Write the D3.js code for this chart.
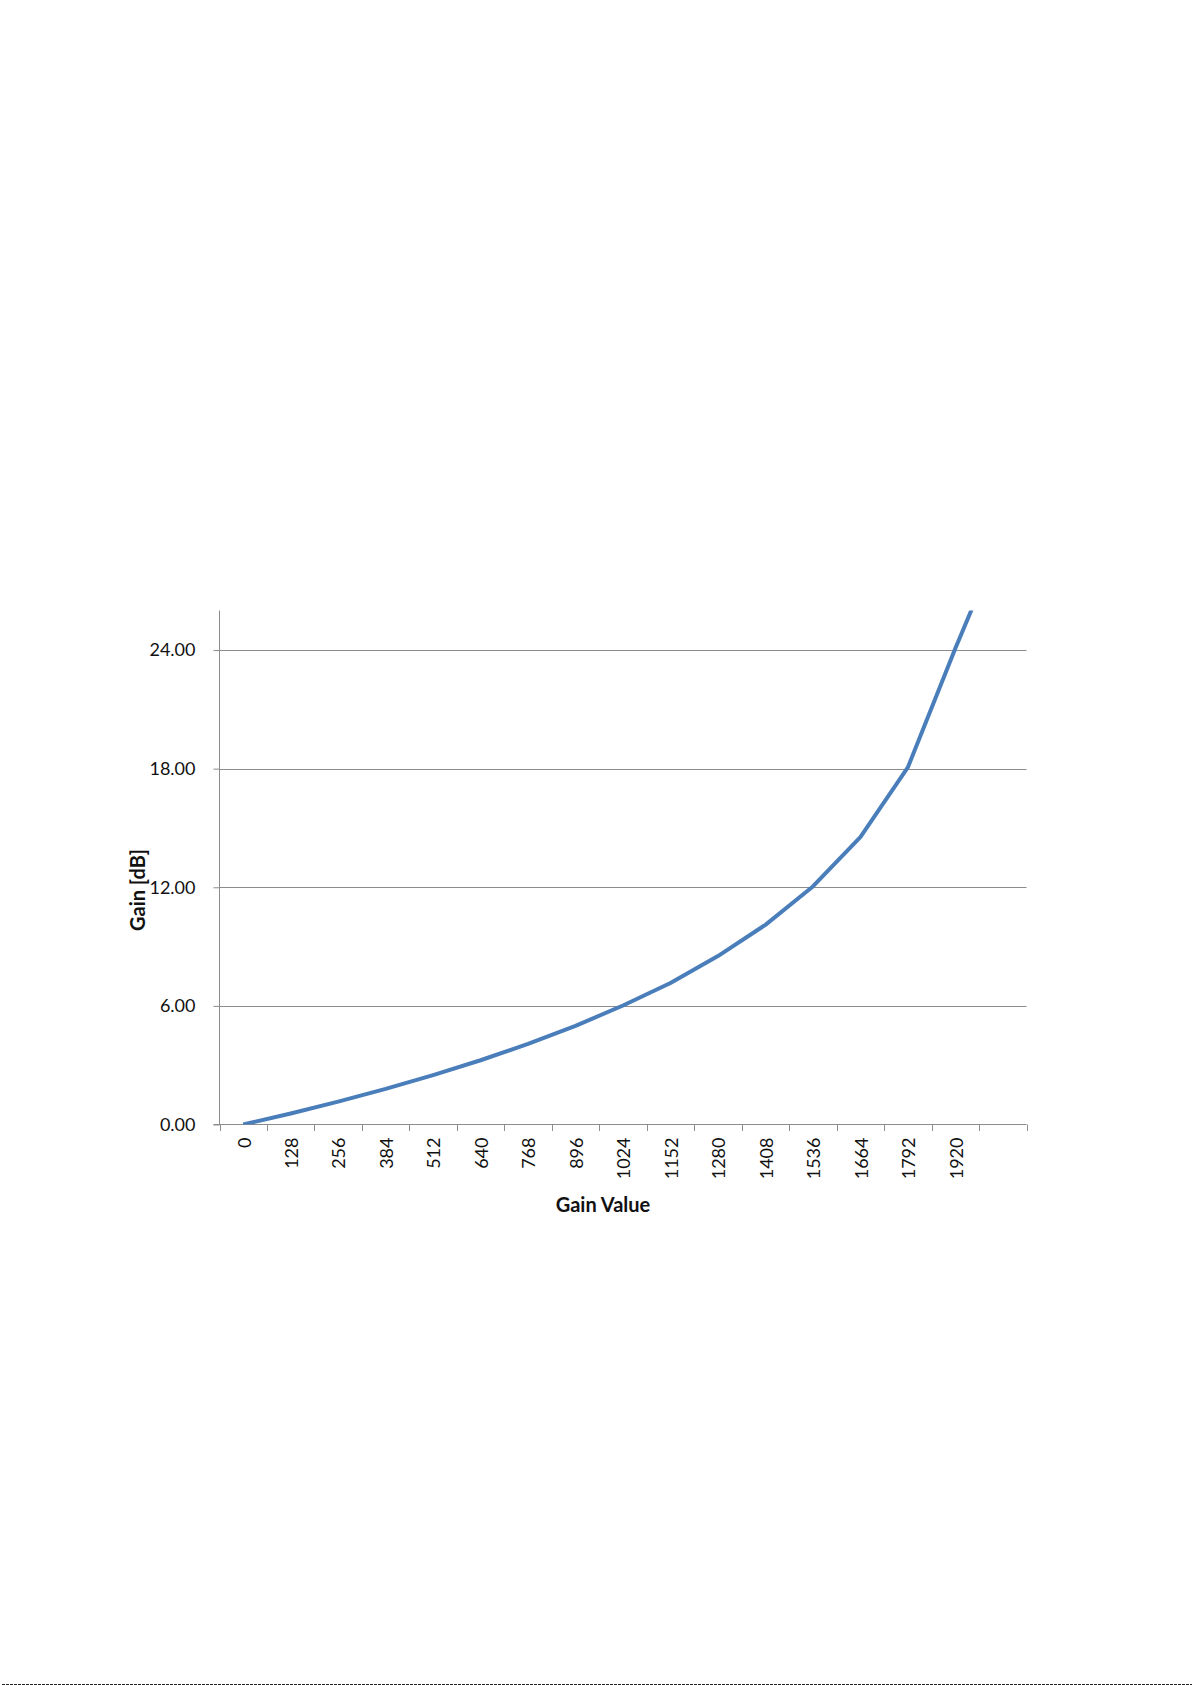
<!DOCTYPE html>
<html>
<head>
<meta charset="utf-8">
<script src="https://cdn.jsdelivr.net/npm/d3@7"></script>
<style>
  html, body { margin: 0; padding: 0; background: #fff; }
  svg { display: block; font-family: Lato, "Open Sans", sans-serif; }
</style>
</head>
<body>
<svg id="chart" width="1192" height="1685"></svg>
<script>
// Data
const categories = ["0","128","256","384","512","640","768","896","1024","1152","1280","1408","1536","1664","1792","1920","2048"];
const tickLabels = ["0","128","256","384","512","640","768","896","1024","1152","1280","1408","1536","1664","1792","1920",""];
const gainDb = [0.00, 0.56, 1.16, 1.80, 2.50, 3.25, 4.08, 4.99, 6.02, 7.16, 8.52, 10.10, 12.04, 14.54, 18.06, 24.08, 29.8];
const yTicks = [0, 6, 12, 18, 24];
const yMax = 26;

(function () {
const svg = d3.select("#chart");
const pLeft = 219.5, pRight = 1026.5, pTop = 610.5, pBottom = 1124.5;

const x = d3.scaleBand().domain(categories).range([pLeft, pRight]).padding(0);
const y = d3.scaleLinear().domain([0, yMax]).range([pBottom, pTop]);

const gridColor = "#8c8c8c";

// clip
svg.append("defs").append("clipPath").attr("id", "plotclip")
  .append("rect").attr("x", pLeft).attr("y", pTop).attr("width", pRight - pLeft).attr("height", pBottom - pTop);

// gridlines
svg.append("g").selectAll("line").data(yTicks.filter(d => d > 0)).join("line")
  .attr("x1", pLeft).attr("x2", pRight)
  .attr("y1", d => Math.round(y(d)) + 0.5).attr("y2", d => Math.round(y(d)) + 0.5)
  .attr("stroke", gridColor).attr("stroke-width", 1);

// y axis
const yAxis = d3.axisLeft(y).tickValues(yTicks).tickSize(6).tickPadding(18)
  .tickFormat(d3.format(".2f"));
const gy = svg.append("g").attr("transform", `translate(${pLeft},0)`).call(yAxis);
gy.select(".domain").attr("stroke", gridColor).attr("d", `M0,${pTop}V${pBottom}`);
gy.selectAll(".tick line").attr("stroke", gridColor);
gy.selectAll(".tick text").attr("font-size", 18).attr("fill", "#111").attr("font-family", "Lato, 'Open Sans', sans-serif");

// x axis line
svg.append("line").attr("x1", pLeft - 6).attr("x2", pRight).attr("y1", pBottom).attr("y2", pBottom)
  .attr("stroke", gridColor).attr("stroke-width", 1);
// x ticks at band boundaries
const bounds = categories.map(c => x(c)).concat([x(categories[categories.length - 1]) + x.bandwidth()]);
svg.append("g").selectAll("line").data(bounds).join("line")
  .attr("x1", d => Math.round(d) + 0.5).attr("x2", d => Math.round(d) + 0.5)
  .attr("y1", pBottom).attr("y2", pBottom + 6.5)
  .attr("stroke", gridColor).attr("stroke-width", 1);
// x labels
svg.append("g").selectAll("text").data(categories).join("text")
  .attr("transform", d => `translate(${x(d) + x.bandwidth() / 2 + 1},${pBottom + 13}) rotate(-90)`)
  .attr("text-anchor", "end").attr("dy", "0.35em")
  .attr("font-size", 18).attr("fill", "#111")
  .text((d, i) => tickLabels[i]);

// line
const line = d3.line().x((d, i) => x(categories[i]) + x.bandwidth() / 2).y(d => y(d));
svg.append("path").datum(gainDb)
  .attr("clip-path", "url(#plotclip)")
  .attr("d", line).attr("fill", "none")
  .attr("stroke", "#4a7ebb").attr("stroke-width", 4).attr("stroke-linejoin", "round");

// axis titles
svg.append("text").attr("x", 603).attr("y", 1212).attr("text-anchor", "middle")
  .attr("font-size", 20).attr("font-weight", "bold").attr("fill", "#111").text("Gain Value");
svg.append("text").attr("transform", "translate(145,890) rotate(-90)").attr("text-anchor", "middle")
  .attr("font-size", 20).attr("font-weight", "bold").attr("fill", "#111").text("Gain [dB]");

// bottom page edge dashed line
svg.append("line").attr("x1", 2).attr("x2", 1192).attr("y1", 1684.5).attr("y2", 1684.5)
  .attr("stroke", "#222").attr("stroke-width", 1).attr("stroke-dasharray", "3,1");
})();
</script>
</body>
</html>
